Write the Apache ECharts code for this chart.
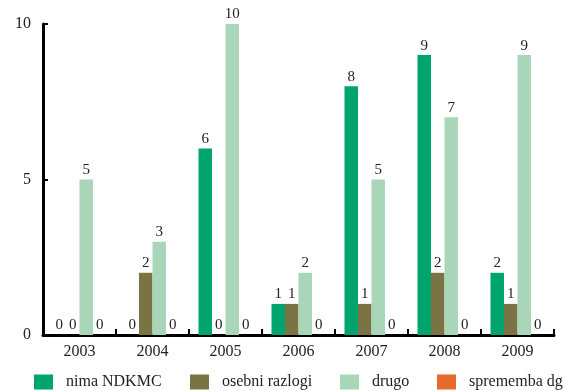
<!DOCTYPE html>
<html>
<head>
<meta charset="utf-8">
<script src="https://cdn.jsdelivr.net/npm/echarts@6/dist/echarts.min.js"></script>
<style>
  html, body { margin: 0; padding: 0; background: #fff; }
  #chart { width: 566px; height: 391px; }
</style>
</head>
<body>
<div id="chart"></div>
<script>
// Years on the category axis
const years = ['2003', '2004', '2005', '2006', '2007', '2008', '2009'];

// Counts per reason
const nimaNDKMC = [0, 0, 6, 1, 8, 9, 2];
const osebniRazlogi = [0, 2, 0, 1, 1, 2, 1];
const drugo = [5, 3, 10, 2, 5, 7, 9];
const spremembaDg = [0, 0, 0, 0, 0, 0, 0];

const seriesNames = ['nima NDKMC', 'osebni razlogi', 'drugo', 'sprememba dg'];
const seriesData = [nimaNDKMC, osebniRazlogi, drugo, spremembaDg];
const seriesColors = ['#00a56d', '#7a7444', '#a9d5b8', '#e4692a'];

// Left edge of each legend entry
const legendLefts = [34, 190, 340, 437];

const font = 'Liberation Serif, DejaVu Serif, serif';
const legendText = { fontFamily: font, fontSize: 16, color: '#222', fontWeight: 'normal' };

const chart = echarts.init(document.getElementById('chart'));
chart.setOption({
  animation: false,
  textStyle: { fontFamily: font, color: '#222' },
  grid: { left: 43, right: 12, top: 24, bottom: 56 },
  legend: seriesNames.map((name, i) => ({
    top: 374,
    left: legendLefts[i],
    padding: 0,
    itemWidth: 19,
    itemHeight: 15,
    icon: 'rect',
    formatter: n => '  ' + n,
    textStyle: legendText,
    data: [{ name: name, textStyle: legendText }]
  })),
  xAxis: {
    type: 'category',
    data: years,
    axisLine: { lineStyle: { color: '#000', width: 3 } },
    axisTick: { show: true, inside: true, length: 6, lineStyle: { color: '#000', width: 2 } },
    axisLabel: { fontFamily: font, fontSize: 16, color: '#222', margin: 9 }
  },
  yAxis: {
    type: 'value',
    min: 0,
    max: 10,
    interval: 5,
    splitLine: { show: false },
    axisLine: { show: true, lineStyle: { color: '#000', width: 3 } },
    axisTick: { show: true, inside: true, length: 5, lineStyle: { color: '#000', width: 2 } },
    axisLabel: { fontFamily: font, fontSize: 16, color: '#222', margin: 12 }
  },
  series: seriesNames.map((name, i) => ({
    name: name,
    type: 'bar',
    data: seriesData[i],
    barGap: '0%',
    barCategoryGap: '26%',
    itemStyle: { color: seriesColors[i] },
    label: {
      show: true,
      position: 'top',
      distance: 2,
      fontFamily: font,
      fontSize: 15,
      color: '#222'
    }
  }))
});
</script>
</body>
</html>
